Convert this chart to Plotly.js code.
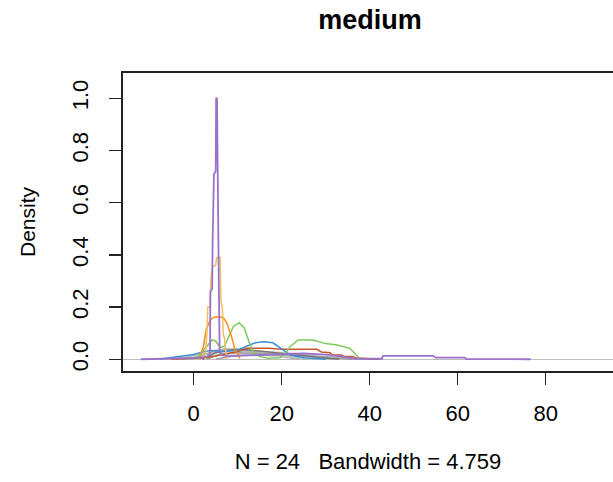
<!DOCTYPE html>
<html>
<head>
<meta charset="utf-8">
<script src="https://cdn.plot.ly/plotly-3.0.1.min.js"></script>
<style>html,body{margin:0;padding:0;background:#fff;}#chart{width:613px;height:482px;}</style>
</head>
<body>
<div id="chart"></div>
<script>
// ---- data ----
const grayAX = [-6,-2,2,6,10,15,20,25,30,34];
const grayAY = [0,0.008,0.02,0.03,0.032,0.028,0.02,0.012,0.004,0];
const grayBX = [0,3,5,8,12,16,20,24];
const grayBY = [0,0.02,0.035,0.038,0.03,0.02,0.01,0];
const grayCX = [2,5,9,14,19,24,28,32];
const grayCY = [0,0.015,0.025,0.03,0.027,0.02,0.01,0];
const grayDX = [-3,1,4,7,11,15,19,23,27];
const grayDY = [0,0.01,0.025,0.04,0.035,0.025,0.015,0.006,0];
const grayFX = [5,8,12,18,24,30,36];
const grayFY = [0,0.01,0.018,0.02,0.015,0.008,0];
const grayGX = [0,4,8,13,18,22,27];
const grayGY = [0,0.012,0.022,0.018,0.014,0.008,0];
const grayHX = [3,6,10,15,22,28,35,40];
const grayHY = [0,0.02,0.025,0.022,0.018,0.012,0.005,0];
const darkX = [2,5,9.4,12,16,21,25,29,33];
const darkY = [0,0.025,0.038,0.036,0.03,0.02,0.014,0.006,0];

const brownX = [-5,0,2.2,5,7.5,10,12,17,20,28,29,31,31.5,33.7,34,36,37,42];
const brownY = [0,0.003,0.005,0.012,0.02,0.03,0.042,0.042,0.038,0.038,0.028,0.025,0.016,0.016,0.011,0.011,0.005,0];
const blueX = [-8,-4,-2,0,2,4,7,10,12,14,16,18,20,22,25,28,30];
const blueY = [0,0.008,0.013,0.018,0.028,0.034,0.03,0.035,0.05,0.063,0.067,0.063,0.04,0.015,0.006,0.001,0];
const greenX = [-1,1,3,4.2,5,6,7,8,9,10.3,11.5,12.5,13.5,15,17,19.6,21,21.9,23.7,27.1,30,32.6,35.5,37,37.8];
const greenY = [0,0.01,0.05,0.074,0.07,0.045,0.05,0.09,0.125,0.14,0.12,0.07,0.03,0.01,0.004,0.006,0.025,0.048,0.074,0.074,0.06,0.055,0.042,0.015,0];
const orangeX = [1.2,2.2,2.8,3.7,4.5,5.3,6.7,7.5,8.6,9.4,10.5];
const orangeY = [0,0.048,0.11,0.15,0.16,0.163,0.16,0.14,0.087,0.036,0.003];
const goldX = [2.6,3.0,3.2,3.7,3.9,4.3,5.0,5.2,6.0,6.2,6.5,6.7,7.0,7.5];
const goldY = [0,0.1,0.2,0.2,0.3,0.355,0.36,0.388,0.39,0.22,0.2,0.1,0.08,0];
const purpleX = [-12,-6,-2,1,3,3.7,3.8,4.2,4.3,4.5,4.6,5.0,5.1,5.3,5.35,5.5,5.7,5.9,6.5,8,12,16,20,25,30,34,36.5,42.8,43,54.4,55,61.6,62,76.6];
const purpleY = [0,0.001,0.002,0.005,0.01,0.02,0.26,0.27,0.45,0.58,0.71,0.72,1.0,1.0,0.87,0.86,0.3,0.03,0.015,0.012,0.015,0.018,0.02,0.022,0.018,0.01,0.002,0.002,0.013,0.013,0.006,0.006,0.001,0];

const xTicks = [0,20,40,60,80];
const yTicks = [0,0.2,0.4,0.6,0.8,1.0];
const yTickText = ['0.0','0.2','0.4','0.6','0.8','1.0'];
const titleText = 'medium';
const xTitleText = 'N = 24&nbsp;&nbsp; Bandwidth = 4.759';
const yTitleText = 'Density';

// ---- traces ----
function tr(x, y, color, w) {
  return {x: x, y: y, type: 'scatter', mode: 'lines', line: {color: color, width: w || 1.5}, hoverinfo: 'skip', showlegend: false};
}
const traces = [
  tr(grayAX, grayAY, '#BDBDBD'),
  tr(grayBX, grayBY, '#A8A8A8'),
  tr(grayCX, grayCY, '#C4C4C4'),
  tr(grayDX, grayDY, '#B0B0B0'),
  tr(grayFX, grayFY, '#9E9E9E'),
  tr(grayGX, grayGY, '#C8C8C8'),
  tr(grayHX, grayHY, '#A4A4A4'),
  tr(darkX, darkY, '#777777'),
  tr(brownX, brownY, '#C4572B'),
  tr(blueX, blueY, '#3F8FD2'),
  tr(greenX, greenY, '#7CCB5A'),
  tr(orangeX, orangeY, '#FF8C1A'),
  tr(goldX, goldY, '#F0C060'),
  tr(purpleX, purpleY, '#9B72C9', 1.8)
];

const fontFam = 'Liberation Sans, Arial, sans-serif';
const layout = {
  width: 613, height: 482,
  margin: {l: 123, r: 0, t: 73, b: 111, pad: 0},
  paper_bgcolor: '#ffffff', plot_bgcolor: '#ffffff',
  font: {family: fontFam, size: 22, color: '#000'},
  title: {text: '<b>' + titleText + '</b>', font: {family: fontFam, size: 27, color: '#000'},
          x: 0.504, xref: 'paper', xanchor: 'center', y: 1 - 20/482, yref: 'container', yanchor: 'middle'},
  xaxis: {
    range: [-16.07, 95.3], tickvals: xTicks, ticks: 'outside', ticklen: 12, tickwidth: 1.5, tickcolor: '#222',
    showline: true, linecolor: '#222', linewidth: 2, mirror: true, showgrid: false, zeroline: false,
    tickfont: {size: 22}, ticklabelstandoff: 10,
    title: {text: xTitleText, font: {size: 22}, standoff: 28}
  },
  yaxis: {
    range: [-0.045, 1.097], tickvals: yTicks, ticktext: yTickText, tickangle: -90,
    ticks: 'outside', ticklen: 12, tickwidth: 1.5, tickcolor: '#222',
    showline: true, linecolor: '#222', linewidth: 2, mirror: false, showgrid: false,
    zeroline: true, zerolinecolor: '#BEBEBE', zerolinewidth: 1.5,
    tickfont: {size: 22}, ticklabelstandoff: 12,
    title: {text: yTitleText, font: {size: 21}, standoff: 27}
  }
};
Plotly.newPlot('chart', traces, layout, {staticPlot: true, displayModeBar: false});
</script>
</body>
</html>
